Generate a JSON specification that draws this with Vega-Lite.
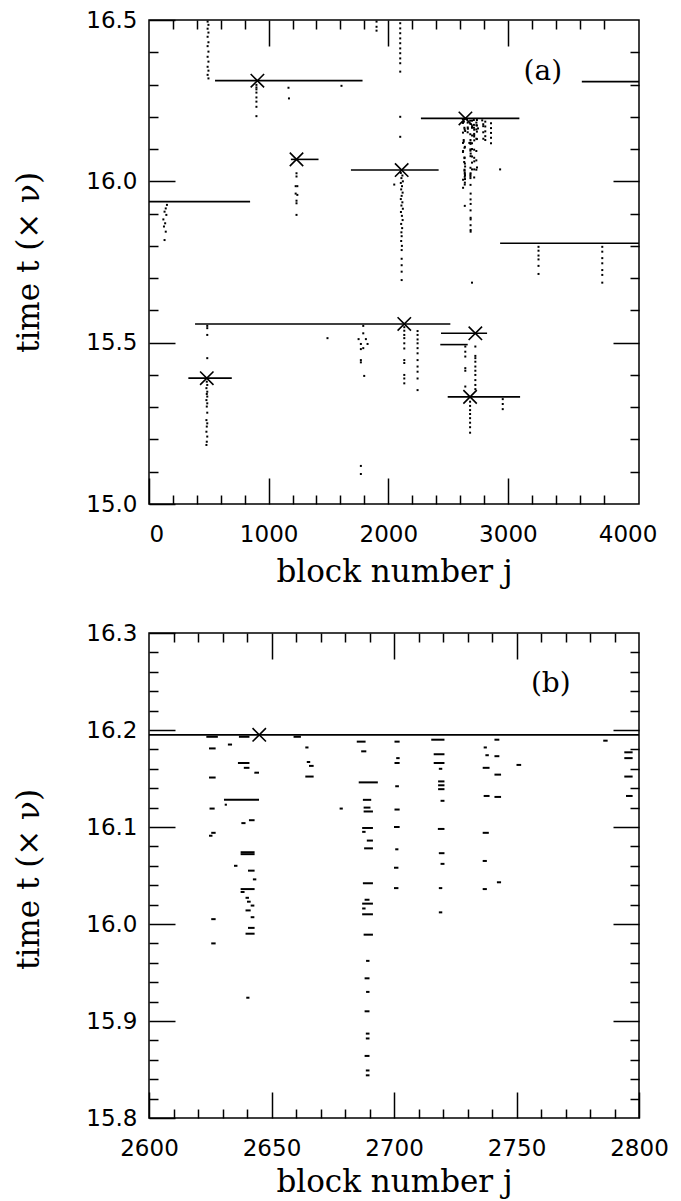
{
  "$schema": "https://vega.github.io/schema/vega-lite/v6.json",
  "background": "white",
  "padding": {"left": 12, "top": 8, "right": 5, "bottom": 2},
  "config": {
    "view": {"stroke": "black", "strokeWidth": 1.5},
    "axis": {
      "domain": false, "grid": false, "tickColor": "black", "tickWidth": 1.5,
      "labelFont": "DejaVu Sans", "labelFontSize": 23, "labelColor": "black", "labelOverlap": false,
      "titleFont": "DejaVu Serif", "titleFontSize": 31, "titleFontWeight": "normal", "titleColor": "black"
    }
  },
  "datasets": {
    "segA": [
      {"j1": 552, "j2": 1785, "t": 16.312},
      {"j1": 1186, "j2": 1417, "t": 16.068},
      {"j1": 0, "j2": 845, "t": 15.937},
      {"j1": 1688, "j2": 2421, "t": 16.035},
      {"j1": 2273, "j2": 3096, "t": 16.195},
      {"j1": 3618, "j2": 4096, "t": 16.309},
      {"j1": 2935, "j2": 4096, "t": 15.808},
      {"j1": 385, "j2": 2519, "t": 15.558},
      {"j1": 329, "j2": 692, "t": 15.39},
      {"j1": 2441, "j2": 2826, "t": 15.529},
      {"j1": 2435, "j2": 2664, "t": 15.494},
      {"j1": 2497, "j2": 3102, "t": 15.332}
    ],
    "xA": [
      {"j": 906, "t": 16.312}, {"j": 1233, "t": 16.068}, {"j": 2112, "t": 16.035}, {"j": 2645, "t": 16.195},
      {"j": 2134, "t": 15.558}, {"j": 483, "t": 15.39}, {"j": 2728, "t": 15.529}, {"j": 2684, "t": 15.332}
    ],
    "labA": [{"j": 3292, "t": 16.34, "label": "(a)"}],
    "labB": [{"j": 2764, "t": 16.247, "label": "(b)"}],
    "segB": [{"j1": 2600, "j2": 2800, "t": 16.195}],
    "xB": [{"j": 2645, "t": 16.195}],
    "dotsA": [
      {"j": 490, "t": 16.495}, {"j": 497, "t": 16.485}, {"j": 490, "t": 16.473}, {"j": 497, "t": 16.461}, {"j": 490, "t": 16.448},
      {"j": 497, "t": 16.431}, {"j": 490, "t": 16.419}, {"j": 497, "t": 16.402}, {"j": 490, "t": 16.386}, {"j": 497, "t": 16.371},
      {"j": 490, "t": 16.355}, {"j": 497, "t": 16.343}, {"j": 490, "t": 16.33}, {"j": 497, "t": 16.319},
      {"j": 898, "t": 16.299}, {"j": 898, "t": 16.291}, {"j": 898, "t": 16.285}, {"j": 898, "t": 16.275}, {"j": 898, "t": 16.26},
      {"j": 898, "t": 16.247}, {"j": 898, "t": 16.231}, {"j": 898, "t": 16.202},
      {"j": 1166, "t": 16.29}, {"j": 1170, "t": 16.257}, {"j": 1609, "t": 16.296},
      {"j": 2100, "t": 16.49}, {"j": 2100, "t": 16.474}, {"j": 2100, "t": 16.459}, {"j": 2100, "t": 16.443}, {"j": 2100, "t": 16.428},
      {"j": 2100, "t": 16.412}, {"j": 2100, "t": 16.397}, {"j": 2100, "t": 16.381}, {"j": 2100, "t": 16.366}, {"j": 2100, "t": 16.34},
      {"j": 2100, "t": 16.2}, {"j": 2100, "t": 16.138},
      {"j": 1902, "t": 16.495}, {"j": 1902, "t": 16.479}, {"j": 1902, "t": 16.467},
      {"j": 1233, "t": 16.025}, {"j": 1233, "t": 16.015}, {"j": 1226, "t": 15.985}, {"j": 1240, "t": 15.985}, {"j": 1226, "t": 15.962},
      {"j": 1240, "t": 15.958}, {"j": 1233, "t": 15.94}, {"j": 1233, "t": 15.932}, {"j": 1233, "t": 15.896},
      {"j": 150, "t": 15.927}, {"j": 140, "t": 15.916}, {"j": 130, "t": 15.906}, {"j": 145, "t": 15.896}, {"j": 120, "t": 15.882},
      {"j": 135, "t": 15.87}, {"j": 125, "t": 15.86}, {"j": 140, "t": 15.844}, {"j": 130, "t": 15.818},
      {"j": 2105, "t": 16.026}, {"j": 2118, "t": 16.018}, {"j": 2110, "t": 16.01}, {"j": 2122, "t": 16.0}, {"j": 2105, "t": 15.995},
      {"j": 2115, "t": 15.985}, {"j": 2108, "t": 15.975}, {"j": 2120, "t": 15.965}, {"j": 2112, "t": 15.955}, {"j": 2105, "t": 15.945},
      {"j": 2118, "t": 15.935}, {"j": 2110, "t": 15.925}, {"j": 2122, "t": 15.915}, {"j": 2106, "t": 15.905}, {"j": 2114, "t": 15.893},
      {"j": 2120, "t": 15.88}, {"j": 2108, "t": 15.868}, {"j": 2116, "t": 15.855}, {"j": 2110, "t": 15.842}, {"j": 2112, "t": 15.83},
      {"j": 2108, "t": 15.815}, {"j": 2114, "t": 15.8}, {"j": 2112, "t": 15.787}, {"j": 2112, "t": 15.76}, {"j": 2112, "t": 15.74},
      {"j": 2112, "t": 15.72}, {"j": 2112, "t": 15.694}, {"j": 2050, "t": 15.99},
      {"j": 2134, "t": 15.548}, {"j": 2134, "t": 15.537}, {"j": 2134, "t": 15.524}, {"j": 2134, "t": 15.514}, {"j": 2134, "t": 15.498},
      {"j": 2134, "t": 15.482}, {"j": 2134, "t": 15.446}, {"j": 2134, "t": 15.437}, {"j": 2134, "t": 15.4}, {"j": 2134, "t": 15.389},
      {"j": 2134, "t": 15.374},
      {"j": 2245, "t": 15.536}, {"j": 2245, "t": 15.524}, {"j": 2245, "t": 15.51}, {"j": 2245, "t": 15.498}, {"j": 2245, "t": 15.483},
      {"j": 2245, "t": 15.467}, {"j": 2245, "t": 15.446}, {"j": 2245, "t": 15.426}, {"j": 2245, "t": 15.41}, {"j": 2245, "t": 15.389},
      {"j": 2245, "t": 15.353},
      {"j": 1791, "t": 15.552}, {"j": 1791, "t": 15.529}, {"j": 1752, "t": 15.511}, {"j": 1813, "t": 15.511}, {"j": 1771, "t": 15.496},
      {"j": 1827, "t": 15.496}, {"j": 1791, "t": 15.483}, {"j": 1771, "t": 15.48}, {"j": 1771, "t": 15.446}, {"j": 1771, "t": 15.439},
      {"j": 1799, "t": 15.397}, {"j": 1492, "t": 15.514}, {"j": 1771, "t": 15.118}, {"j": 1771, "t": 15.093},
      {"j": 487, "t": 15.552}, {"j": 487, "t": 15.545}, {"j": 487, "t": 15.524}, {"j": 487, "t": 15.452},
      {"j": 483, "t": 15.379}, {"j": 487, "t": 15.369}, {"j": 480, "t": 15.359}, {"j": 487, "t": 15.348}, {"j": 483, "t": 15.341},
      {"j": 487, "t": 15.333}, {"j": 480, "t": 15.322}, {"j": 487, "t": 15.312}, {"j": 483, "t": 15.302}, {"j": 487, "t": 15.283},
      {"j": 480, "t": 15.26}, {"j": 487, "t": 15.25}, {"j": 483, "t": 15.24}, {"j": 480, "t": 15.224}, {"j": 487, "t": 15.209},
      {"j": 483, "t": 15.193}, {"j": 480, "t": 15.183},
      {"j": 2644, "t": 15.488}, {"j": 2644, "t": 15.472}, {"j": 2644, "t": 15.457}, {"j": 2644, "t": 15.421}, {"j": 2644, "t": 15.413},
      {"j": 2644, "t": 15.364},
      {"j": 2728, "t": 15.488}, {"j": 2728, "t": 15.459}, {"j": 2728, "t": 15.452}, {"j": 2728, "t": 15.441}, {"j": 2728, "t": 15.426},
      {"j": 2728, "t": 15.413}, {"j": 2728, "t": 15.4}, {"j": 2728, "t": 15.384}, {"j": 2728, "t": 15.369}, {"j": 2728, "t": 15.356},
      {"j": 2684, "t": 15.317}, {"j": 2684, "t": 15.304}, {"j": 2684, "t": 15.291}, {"j": 2684, "t": 15.279}, {"j": 2684, "t": 15.266},
      {"j": 2684, "t": 15.252}, {"j": 2684, "t": 15.238}, {"j": 2684, "t": 15.221},
      {"j": 2957, "t": 15.325}, {"j": 2957, "t": 15.31}, {"j": 2957, "t": 15.294},
      {"j": 3256, "t": 15.797}, {"j": 3256, "t": 15.785}, {"j": 3256, "t": 15.77}, {"j": 3256, "t": 15.758}, {"j": 3256, "t": 15.738},
      {"j": 3256, "t": 15.713},
      {"j": 3789, "t": 15.797}, {"j": 3789, "t": 15.782}, {"j": 3789, "t": 15.762}, {"j": 3789, "t": 15.746}, {"j": 3789, "t": 15.725},
      {"j": 3789, "t": 15.71}, {"j": 3789, "t": 15.686},
      {"j": 2700, "t": 15.686},
      {"j": 2811, "t": 16.185}, {"j": 2811, "t": 16.17}, {"j": 2811, "t": 16.155}, {"j": 2811, "t": 16.14}, {"j": 2811, "t": 16.128},
      {"j": 2859, "t": 16.18}, {"j": 2859, "t": 16.165}, {"j": 2859, "t": 16.15}, {"j": 2859, "t": 16.135}, {"j": 2859, "t": 16.118},
      {"j": 2935, "t": 16.037}
    ],
    "dashB": [
      {"j1": 2623.4, "j2": 2628.1, "t": 16.193}, {"j1": 2636.7, "j2": 2641, "t": 16.193}, {"j1": 2659, "j2": 2662, "t": 16.193},
      {"j1": 2624.5, "j2": 2627.2, "t": 16.181}, {"j1": 2632.2, "j2": 2633.9, "t": 16.185}, {"j1": 2636.3, "j2": 2641, "t": 16.166},
      {"j1": 2638.7, "j2": 2641, "t": 16.161}, {"j1": 2643, "j2": 2644.9, "t": 16.156}, {"j1": 2624.5, "j2": 2627.2, "t": 16.151},
      {"j1": 2630.6, "j2": 2644.9, "t": 16.128}, {"j1": 2630.9, "j2": 2631.8, "t": 16.123}, {"j1": 2624.7, "j2": 2626.8, "t": 16.119},
      {"j1": 2677.8, "j2": 2679.1, "t": 16.119}, {"j1": 2663.8, "j2": 2665.1, "t": 16.182}, {"j1": 2664.4, "j2": 2665.8, "t": 16.167},
      {"j1": 2665.3, "j2": 2667.2, "t": 16.163}, {"j1": 2663.8, "j2": 2667.2, "t": 16.152}, {"j1": 2684.8, "j2": 2688.4, "t": 16.188},
      {"j1": 2686.6, "j2": 2688.7, "t": 16.178}, {"j1": 2685.6, "j2": 2693.4, "t": 16.146}, {"j1": 2687.3, "j2": 2690.7, "t": 16.128},
      {"j1": 2687.6, "j2": 2690.4, "t": 16.12}, {"j1": 2687.6, "j2": 2691.4, "t": 16.116}, {"j1": 2700.2, "j2": 2702.3, "t": 16.188},
      {"j1": 2700.9, "j2": 2702.3, "t": 16.171}, {"j1": 2700.2, "j2": 2702.3, "t": 16.166}, {"j1": 2700.5, "j2": 2702, "t": 16.142},
      {"j1": 2700.2, "j2": 2702.3, "t": 16.118}, {"j1": 2715.2, "j2": 2720.6, "t": 16.19}, {"j1": 2716.2, "j2": 2720.6, "t": 16.175},
      {"j1": 2716.2, "j2": 2720.6, "t": 16.166}, {"j1": 2718.3, "j2": 2719.7, "t": 16.16}, {"j1": 2718, "j2": 2720.6, "t": 16.147},
      {"j1": 2718, "j2": 2720.6, "t": 16.143}, {"j1": 2718, "j2": 2720.6, "t": 16.139}, {"j1": 2719, "j2": 2720.6, "t": 16.127},
      {"j1": 2736.6, "j2": 2737.9, "t": 16.182}, {"j1": 2741, "j2": 2743, "t": 16.19}, {"j1": 2737.3, "j2": 2738.7, "t": 16.174},
      {"j1": 2741, "j2": 2743, "t": 16.173}, {"j1": 2736.2, "j2": 2739, "t": 16.161}, {"j1": 2741, "j2": 2743.7, "t": 16.154},
      {"j1": 2736.6, "j2": 2739, "t": 16.132}, {"j1": 2741, "j2": 2743.7, "t": 16.131}, {"j1": 2750, "j2": 2751.9, "t": 16.164},
      {"j1": 2785.4, "j2": 2787.2, "t": 16.189}, {"j1": 2794, "j2": 2797.4, "t": 16.177}, {"j1": 2794, "j2": 2797.4, "t": 16.171},
      {"j1": 2794, "j2": 2797.4, "t": 16.152}, {"j1": 2794.7, "j2": 2797.4, "t": 16.132},
      {"j1": 2625.4, "j2": 2627.2, "t": 16.094}, {"j1": 2624.5, "j2": 2625.9, "t": 16.091}, {"j1": 2637.7, "j2": 2639.4, "t": 16.104},
      {"j1": 2640.8, "j2": 2643.1, "t": 16.107}, {"j1": 2687, "j2": 2691.4, "t": 16.099}, {"j1": 2687, "j2": 2688.4, "t": 16.095},
      {"j1": 2688.9, "j2": 2691.4, "t": 16.086}, {"j1": 2687.8, "j2": 2691.4, "t": 16.078}, {"j1": 2700, "j2": 2702.3, "t": 16.1},
      {"j1": 2700.5, "j2": 2701.8, "t": 16.077}, {"j1": 2700, "j2": 2701.8, "t": 16.058}, {"j1": 2700, "j2": 2701.8, "t": 16.037},
      {"j1": 2637.4, "j2": 2643.1, "t": 16.074}, {"j1": 2637.4, "j2": 2643.1, "t": 16.072}, {"j1": 2634.7, "j2": 2636.1, "t": 16.06},
      {"j1": 2640.4, "j2": 2643.1, "t": 16.055}, {"j1": 2642.4, "j2": 2643.8, "t": 16.046}, {"j1": 2637.4, "j2": 2643.1, "t": 16.036},
      {"j1": 2637.4, "j2": 2639, "t": 16.033}, {"j1": 2639.4, "j2": 2640.8, "t": 16.027}, {"j1": 2640, "j2": 2641.5, "t": 16.023},
      {"j1": 2641.5, "j2": 2643, "t": 16.019}, {"j1": 2639.4, "j2": 2641.5, "t": 16.014}, {"j1": 2641.5, "j2": 2643, "t": 16.007},
      {"j1": 2640.4, "j2": 2643.1, "t": 15.996}, {"j1": 2639.4, "j2": 2643.1, "t": 15.99}, {"j1": 2625.4, "j2": 2627.2, "t": 16.005},
      {"j1": 2625.4, "j2": 2627.2, "t": 15.98}, {"j1": 2639.7, "j2": 2641, "t": 15.924}, {"j1": 2687.3, "j2": 2691.4, "t": 16.042},
      {"j1": 2688, "j2": 2690, "t": 16.025}, {"j1": 2687, "j2": 2691.4, "t": 16.021}, {"j1": 2687, "j2": 2688.4, "t": 16.016},
      {"j1": 2687, "j2": 2691.4, "t": 16.01}, {"j1": 2687.6, "j2": 2691.4, "t": 15.989}, {"j1": 2688.6, "j2": 2690, "t": 15.962},
      {"j1": 2688, "j2": 2690, "t": 15.944}, {"j1": 2688.6, "j2": 2690, "t": 15.93}, {"j1": 2688, "j2": 2690, "t": 15.91},
      {"j1": 2688.5, "j2": 2690, "t": 15.887}, {"j1": 2688.5, "j2": 2690, "t": 15.882}, {"j1": 2688, "j2": 2690, "t": 15.864},
      {"j1": 2688.5, "j2": 2690, "t": 15.849}, {"j1": 2688.5, "j2": 2690, "t": 15.844},
      {"j1": 2717.9, "j2": 2720.6, "t": 16.098}, {"j1": 2718.3, "j2": 2720.6, "t": 16.073}, {"j1": 2719, "j2": 2720.6, "t": 16.062},
      {"j1": 2718.3, "j2": 2719.7, "t": 16.037}, {"j1": 2718.3, "j2": 2719.7, "t": 16.012}, {"j1": 2736.2, "j2": 2738.7, "t": 16.094},
      {"j1": 2736.2, "j2": 2737.9, "t": 16.065}, {"j1": 2736.2, "j2": 2737.9, "t": 16.036}, {"j1": 2742, "j2": 2743.7, "t": 16.043}
    ]
  },
  "bounds": "flush",
  "spacing": 129,
  "vconcat": [
    {
      "width": 490, "height": 484,
      "resolve": {"axis": {"x": "independent", "y": "independent"}},
      "layer": [
        {
          "data": {"name": "segA"},
          "mark": {"type": "rule", "color": "black", "strokeWidth": 1.6},
          "encoding": {
            "x": {"field": "j1", "type": "quantitative", "scale": {"domain": [0, 4096], "nice": false, "zero": false},
              "axis": {"orient": "bottom", "values": [0, 1000, 2000, 3000, 4000], "format": "d", "tickSize": -26,
                "tickOpacity": {"condition": {"test": "datum.value == 4000", "value": 0}, "value": 1},
                "labelFlush": true, "labelPadding": 45, "title": "block number j", "titleBaseline": "alphabetic", "titleY": 77}},
            "x2": {"field": "j2"},
            "y": {"field": "t", "type": "quantitative", "scale": {"domain": [15, 16.5], "nice": false, "zero": false},
              "axis": {"orient": "left", "values": [15, 15.5, 16, 16.5], "format": ".1f", "tickSize": -26, "labelPadding": 38,
                "title": "time t (× ν)", "titleAngle": 270, "titleBaseline": "alphabetic", "titleAlign": "center", "titleX": -111, "titleY": 242}}
          }
        },
        {
          "data": {"name": "dotsA"},
          "mark": {"type": "square", "color": "black", "size": 4, "filled": true, "opacity": 1},
          "encoding": {
            "x": {"field": "j", "type": "quantitative", "scale": {"domain": [0, 4096], "nice": false, "zero": false},
              "axis": {"orient": "bottom", "values": [200, 400, 600, 800, 1200, 1400, 1600, 1800, 2200, 2400, 2600, 2800, 3200, 3400, 3600, 3800], "tickSize": -9, "labels": false, "title": null}},
            "y": {"field": "t", "type": "quantitative", "scale": {"domain": [15, 16.5], "nice": false, "zero": false},
              "axis": {"orient": "left", "values": [15.1, 15.2, 15.3, 15.4, 15.6, 15.7, 15.8, 15.9, 16.1, 16.2, 16.3, 16.4], "tickSize": -9, "labels": false, "title": null}}
          }
        },
        {
          "data": {"name": "dashB"},
          "mark": {"type": "square", "color": "black", "size": 4, "filled": true, "opacity": 1},
          "encoding": {
            "x": {"field": "j1", "type": "quantitative", "scale": {"domain": [0, 4096], "nice": false, "zero": false},
              "axis": {"orient": "top", "values": [1000, 2000, 3000], "tickSize": -26, "labels": false, "title": null}},
            "y": {"field": "t", "type": "quantitative", "scale": {"domain": [15, 16.5], "nice": false, "zero": false},
              "axis": {"orient": "right", "values": [15.5, 16], "tickSize": -26, "labels": false, "title": null}}
          }
        },
        {
          "data": {"name": "xA"},
          "mark": {"type": "point", "shape": "M-1,-1L1,1M1,-1L-1,1", "size": 180, "filled": false, "strokeWidth": 1.6, "color": "black", "opacity": 1},
          "encoding": {
            "x": {"field": "j", "type": "quantitative", "scale": {"domain": [0, 4096], "nice": false, "zero": false},
              "axis": {"orient": "top", "values": [200, 400, 600, 800, 1200, 1400, 1600, 1800, 2200, 2400, 2600, 2800, 3200, 3400, 3600, 3800], "tickSize": -9, "labels": false, "title": null}},
            "y": {"field": "t", "type": "quantitative", "scale": {"domain": [15, 16.5], "nice": false, "zero": false},
              "axis": {"orient": "right", "values": [15.1, 15.2, 15.3, 15.4, 15.6, 15.7, 15.8, 15.9, 16.1, 16.2, 16.3, 16.4], "tickSize": -9, "labels": false, "title": null}}
          }
        },
        {
          "data": {"name": "labA"},
          "mark": {"type": "text", "font": "DejaVu Serif", "fontSize": 28, "color": "black"},
          "encoding": {
            "x": {"field": "j", "type": "quantitative", "scale": {"domain": [0, 4096], "nice": false, "zero": false}, "axis": null},
            "y": {"field": "t", "type": "quantitative", "scale": {"domain": [15, 16.5], "nice": false, "zero": false}, "axis": null},
            "text": {"field": "label"}
          }
        }
      ]
    },
    {
      "width": 490, "height": 485,
      "resolve": {"axis": {"x": "independent", "y": "independent"}},
      "layer": [
        {
          "data": {"name": "segB"},
          "mark": {"type": "rule", "color": "black", "strokeWidth": 1.6},
          "encoding": {
            "x": {"field": "j1", "type": "quantitative", "scale": {"domain": [2600, 2800], "nice": false, "zero": false},
              "axis": {"orient": "bottom", "values": [2600, 2650, 2700, 2750, 2800], "format": "d", "tickSize": -26,
                "labelFlush": false, "labelPadding": 45, "title": "block number j", "titleBaseline": "alphabetic", "titleY": 73}},
            "x2": {"field": "j2"},
            "y": {"field": "t", "type": "quantitative", "scale": {"domain": [15.8, 16.3], "nice": false, "zero": false},
              "axis": {"orient": "left", "values": [15.8, 15.9, 16.0, 16.1, 16.2, 16.3], "format": ".1f", "tickSize": -26, "labelPadding": 38,
                "title": "time t (× ν)", "titleAngle": 270, "titleBaseline": "alphabetic", "titleAlign": "center", "titleX": -111, "titleY": 246}}
          }
        },
        {
          "data": {"name": "dashB"},
          "mark": {"type": "rule", "color": "black", "strokeWidth": 2},
          "encoding": {
            "x": {"field": "j1", "type": "quantitative", "scale": {"domain": [2600, 2800], "nice": false, "zero": false},
              "axis": {"orient": "bottom", "values": [2610, 2620, 2630, 2640, 2660, 2670, 2680, 2690, 2710, 2720, 2730, 2740, 2760, 2770, 2780, 2790], "tickSize": -9, "labels": false, "title": null}},
            "x2": {"field": "j2"},
            "y": {"field": "t", "type": "quantitative", "scale": {"domain": [15.8, 16.3], "nice": false, "zero": false},
              "axis": {"orient": "left", "values": [15.82, 15.84, 15.86, 15.88, 15.92, 15.94, 15.96, 15.98, 16.02, 16.04, 16.06, 16.08, 16.12, 16.14, 16.16, 16.18, 16.22, 16.24, 16.26, 16.28], "tickSize": -9, "labels": false, "title": null}}
          }
        },
        {
          "data": {"name": "xB"},
          "mark": {"type": "point", "shape": "M-1,-1L1,1M1,-1L-1,1", "size": 180, "filled": false, "strokeWidth": 1.6, "color": "black", "opacity": 1},
          "encoding": {
            "x": {"field": "j", "type": "quantitative", "scale": {"domain": [2600, 2800], "nice": false, "zero": false},
              "axis": {"orient": "top", "values": [2650, 2700, 2750], "tickSize": -26, "labels": false, "title": null}},
            "y": {"field": "t", "type": "quantitative", "scale": {"domain": [15.8, 16.3], "nice": false, "zero": false},
              "axis": {"orient": "right", "values": [15.9, 16.0, 16.1, 16.2], "tickSize": -26, "labels": false, "title": null}}
          }
        },
        {
          "data": {"name": "labB"},
          "mark": {"type": "text", "font": "DejaVu Serif", "fontSize": 28, "color": "black"},
          "encoding": {
            "x": {"field": "j", "type": "quantitative", "scale": {"domain": [2600, 2800], "nice": false, "zero": false},
              "axis": {"orient": "top", "values": [2610, 2620, 2630, 2640, 2660, 2670, 2680, 2690, 2710, 2720, 2730, 2740, 2760, 2770, 2780, 2790], "tickSize": -9, "labels": false, "title": null}},
            "y": {"field": "t", "type": "quantitative", "scale": {"domain": [15.8, 16.3], "nice": false, "zero": false},
              "axis": {"orient": "right", "values": [15.82, 15.84, 15.86, 15.88, 15.92, 15.94, 15.96, 15.98, 16.02, 16.04, 16.06, 16.08, 16.12, 16.14, 16.16, 16.18, 16.22, 16.24, 16.26, 16.28], "tickSize": -9, "labels": false, "title": null}},
            "text": {"field": "label"}
          }
        }
      ]
    }
  ]
}
